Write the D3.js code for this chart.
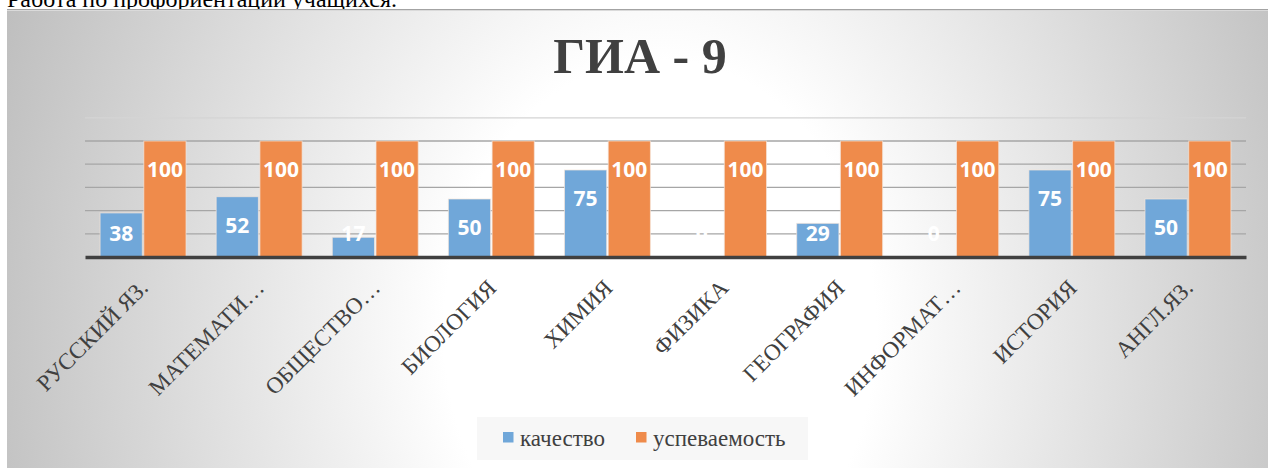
<!DOCTYPE html>
<html><head><meta charset="utf-8">
<script src="https://cdn.jsdelivr.net/npm/d3@7"></script>
<style>html,body{margin:0;padding:0;background:#fff;overflow:hidden}</style>
</head><body>
<svg id="c" width="1268" height="468"></svg>
<script>
const categories = ["РУССКИЙ ЯЗ.","МАТЕМАТИ…","ОБЩЕСТВО…","БИОЛОГИЯ","ХИМИЯ","ФИЗИКА","ГЕОГРАФИЯ","ИНФОРМАТ…","ИСТОРИЯ","АНГЛ.ЯЗ."];
const seriesNames = ["качество","успеваемость"];
const kachestvo = [38,52,17,50,75,0,29,0,75,50];
const uspevaemost = [100,100,100,100,100,100,100,100,100,100];
const yTicks = [0,20,40,60,80,100,120];
const colors = ["#70a7d9","#ef8b4b"];

const svg = d3.select("#c");
const W = 1268, H = 468;

// background text above chart (partly hidden by the chart, as in the reference)
svg.append("text").attr("x",7).attr("y",7)
  .attr("font-family","Liberation Serif").attr("font-size",24).attr("fill","#000")
  .text("Работа по профориентации учащихся.");

const defs = svg.append("defs");
const rg = defs.append("radialGradient").attr("id","bg")
  .attr("gradientUnits","userSpaceOnUse")
  .attr("cx",660).attr("cy",330).attr("r",720)
  .attr("gradientTransform","translate(660,330) scale(1,1.25) translate(-660,-330)");
rg.append("stop").attr("offset",0).attr("stop-color","#ffffff");
rg.append("stop").attr("offset",0.3).attr("stop-color","#ffffff");
rg.append("stop").attr("offset",1).attr("stop-color","#bcbcbc");

svg.append("rect").attr("x",7).attr("y",9).attr("width",W-7).attr("height",H-9).attr("fill","url(#bg)");
svg.append("line").attr("x1",7).attr("x2",W).attr("y1",9.5).attr("y2",9.5).attr("stroke","#a3a3a3").attr("stroke-width",1);
svg.append("line").attr("x1",7).attr("x2",W).attr("y1",10.5).attr("y2",10.5).attr("stroke","#dadada").attr("stroke-width",1);

// title
svg.append("text").attr("x",640).attr("y",73).attr("text-anchor","middle")
  .attr("font-family","Liberation Serif").attr("font-weight","bold").attr("font-size",50)
  .attr("fill","#404040").text("ГИА - 9");

const x0 = d3.scaleBand().domain(categories).range([85,1246]).paddingInner(0.26).paddingOuter(0.13);
const x1 = d3.scaleBand().domain(seriesNames).range([0,x0.bandwidth()]).paddingInner(0.035);
const y = d3.scaleLinear().domain([0,120]).range([257,117.8]);

// gridlines
const grid = svg.append("g").attr("class","grid");
grid.selectAll("line").data(yTicks.filter(t=>t>0)).join("line")
  .attr("x1",85).attr("x2",1246)
  .attr("y1",d=>y(d)).attr("y2",d=>y(d))
  .attr("stroke",d=>d===120?"#d4d4d4":"#a6a6a6").attr("stroke-width",1.3);

const data = categories.map((c,i)=>({c, vals:[kachestvo[i], uspevaemost[i]]}));

const groups = svg.append("g").selectAll("g").data(data).join("g")
  .attr("transform",d=>`translate(${x0(d.c)},0)`);

groups.selectAll("rect").data(d=>d.vals.map((v,k)=>({v,k}))).join("rect")
  .attr("x",d=>x1(seriesNames[d.k]))
  .attr("width",x1.bandwidth())
  .attr("y",d=>y(d.v))
  .attr("height",d=>y(0)-y(d.v))
  .attr("fill",d=>colors[d.k])
  .attr("stroke","#f4e6dc").attr("stroke-opacity",0.7).attr("stroke-width",1);

groups.selectAll("text").data(d=>d.vals.map((v,k)=>({v,k}))).join("text")
  .attr("x",d=>x1(seriesNames[d.k])+x1.bandwidth()/2)
  .attr("y",d=>Math.min(y(d.v)+28, y(20)-1))
  .attr("text-anchor","middle").attr("dominant-baseline","central")
  .attr("font-family","Open Sans").attr("font-weight","bold").attr("font-size",21)
  .attr("fill","#ffffff").text(d=>d.v);

// axis baseline
const xAxis = d3.axisBottom(x0).tickSize(0).tickPadding(0);
const ax = svg.append("g").attr("transform",`translate(0,${y(0)})`).call(xAxis);
ax.select(".domain").attr("stroke","#404040").attr("stroke-width",3.5);
ax.selectAll(".tick text")
  .attr("font-family","Liberation Serif").attr("font-size",23).attr("fill","#404040")
  .attr("text-anchor","end").attr("dy",null).attr("y",0)
  .attr("dominant-baseline","central")
  .attr("transform","translate(1,27) rotate(-45)");

// legend
const lg = svg.append("g");
lg.append("rect").attr("x",477).attr("y",417).attr("width",331).attr("height",43).attr("fill","#f7f7f7");
const legX = [503,636];
seriesNames.forEach((s,k)=>{
  lg.append("rect").attr("x",legX[k]).attr("y",432).attr("width",10.5).attr("height",10.5).attr("fill",colors[k]);
  lg.append("text").attr("x",legX[k]+17).attr("y",446)
    .attr("font-family","Liberation Serif").attr("font-size",23).attr("fill","#404040").text(s);
});
</script>
</body></html>
